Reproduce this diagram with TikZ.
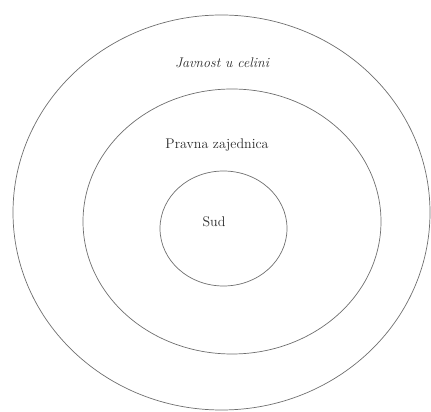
\documentclass[tikz,border=0pt]{standalone}
\usepackage{tikz}
\usetikzlibrary{positioning, shapes.geometric}
\definecolor{ringc}{HTML}{6E6E6E}
\definecolor{labelc}{HTML}{2A2A2A}

\tikzset{
  ring/.style={ellipse, draw=ringc, line width=0.7pt, inner sep=0pt},
  ringlabel/.style={font=\fontsize{14}{16}\selectfont, text=labelc}
}

\begin{document}
\begin{tikzpicture}[x=1pt, y=1pt]
  \useasboundingbox (0,0) rectangle (431,412);
  % three nested rings (slightly oval)
  \node[ring, minimum width=417pt, minimum height=395pt] (javnost) at (221.5,199.5) {};
  \node[ring, minimum width=298pt, minimum height=265pt] (zajednica) at (232,190.5) {};
  \node[ring, minimum width=127pt, minimum height=115pt] (sud) at (223.5,183.5) {};
  % labels
  \node[ringlabel, font=\fontsize{14}{16}\selectfont\itshape] (lblJ) at (222,349) {Javnost u celini};
  \node[ringlabel] (lblP) at (217,267) {Pravna zajednica};
  \node[ringlabel] (lblS) at (214,190) {Sud};
\end{tikzpicture}
\end{document}
